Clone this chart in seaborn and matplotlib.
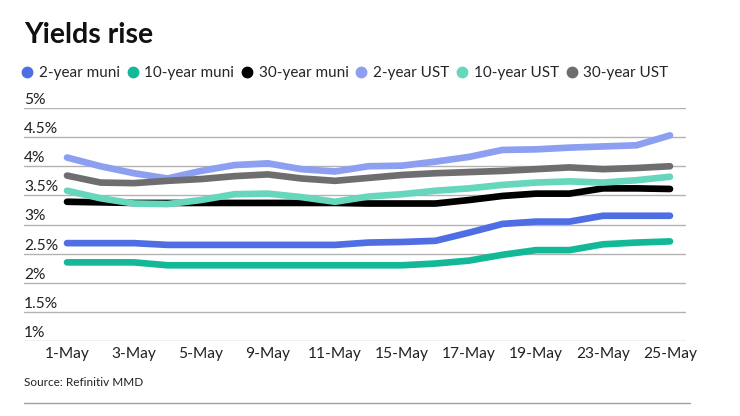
import matplotlib
matplotlib.use("Agg")
import matplotlib.pyplot as plt
from matplotlib.lines import Line2D
import seaborn as sns
import pandas as pd

dates = ["1-May", "2-May", "3-May", "4-May", "5-May", "8-May", "9-May", "10-May",
         "11-May", "12-May", "15-May", "16-May", "17-May", "18-May", "19-May",
         "22-May", "23-May", "24-May", "25-May"]

muni_2y = [2.68, 2.68, 2.68, 2.65, 2.65, 2.65, 2.65, 2.65, 2.65, 2.69, 2.70, 2.72,
           2.86, 3.01, 3.05, 3.05, 3.15, 3.15, 3.15]
muni_10y = [2.35, 2.35, 2.35, 2.30, 2.30, 2.30, 2.30, 2.30, 2.30, 2.30, 2.30, 2.33,
            2.38, 2.48, 2.56, 2.56, 2.66, 2.69, 2.71]
muni_30y = [3.39, 3.38, 3.37, 3.37, 3.37, 3.37, 3.37, 3.37, 3.37, 3.36, 3.36, 3.36,
            3.42, 3.49, 3.53, 3.53, 3.62, 3.62, 3.61]
ust_2y = [4.15, 4.00, 3.88, 3.79, 3.92, 4.02, 4.05, 3.95, 3.91, 4.00, 4.01, 4.08,
          4.16, 4.28, 4.29, 4.32, 4.34, 4.36, 4.53]
ust_10y = [3.58, 3.45, 3.36, 3.35, 3.42, 3.52, 3.53, 3.47, 3.39, 3.48, 3.52, 3.58,
           3.62, 3.68, 3.72, 3.74, 3.72, 3.76, 3.82]
ust_30y = [3.84, 3.72, 3.71, 3.75, 3.78, 3.83, 3.86, 3.79, 3.75, 3.80, 3.85, 3.88,
           3.90, 3.92, 3.95, 3.98, 3.95, 3.97, 4.00]

series_names = ["2-year muni", "10-year muni", "30-year muni",
                "2-year UST", "10-year UST", "30-year UST"]
series_values = [muni_2y, muni_10y, muni_30y, ust_2y, ust_10y, ust_30y]
colors = ["#4f6ee3", "#13b997", "#000000", "#8c9ff0", "#66d6bd", "#6e6e71"]

y_ticks = [1, 1.5, 2, 2.5, 3, 3.5, 4, 4.5, 5]
y_tick_labels = ["1%", "1.5%", "2%", "2.5%", "3%", "3.5%", "4%", "4.5%", "5%"]
x_tick_idx = list(range(0, len(dates), 2))
x_tick_labels = [dates[i] for i in x_tick_idx]

rows = []
for name, vals in zip(series_names, series_values):
    for i, v in enumerate(vals):
        rows.append({"idx": i, "date": dates[i], "series": name, "value": v})
df = pd.DataFrame(rows)

sns.set_theme(style="white")
plt.rcParams["font.family"] = ["Lato", "DejaVu Sans"]

W, H = 740, 416
fig = plt.figure(figsize=(W / 100, H / 100), dpi=100)
left, right, top, bottom = 24, 686, 108, 341
ax = fig.add_axes([left / W, 1 - bottom / H, (right - left) / W, (bottom - top) / H])

sns.lineplot(data=df, x="idx", y="value", hue="series", hue_order=series_names,
             palette=colors, linewidth=4.8, sort=False, legend=False, ax=ax,
             solid_capstyle="round", solid_joinstyle="round")

ax.set_ylim(1, 5)
ax.set_xlim(-43 / 33.5, 18 + 16 / 33.5)

for yv, lab in zip(y_ticks, y_tick_labels):
    ax.axhline(yv, color="#b3b3b3", linewidth=1.0, zorder=0)
    ax.annotate(lab, xy=(0, yv), xycoords=("axes fraction", "data"),
                xytext=(0, 1), textcoords="offset pixels", ha="left", va="bottom",
                fontsize=11.2, color="#222222")

ax.set_yticks([])
ax.set_xticks(x_tick_idx)
ax.set_xticklabels(x_tick_labels, fontsize=11.2, color="#222222")
ax.tick_params(axis="x", length=0, pad=4)
ax.set_xlabel("")
ax.set_ylabel("")
for s in ax.spines.values():
    s.set_visible(False)

fig.text(24 / W, 1 - 43 / H, "Yields rise", fontsize=20.5, fontweight="bold",
         ha="left", va="baseline", color="#111111")

handles = [Line2D([0], [0], marker="o", linestyle="none", markersize=7.5,
                  markerfacecolor=c, markeredgecolor=c) for c in colors]
fig.legend(handles, series_names, loc="center left",
           bbox_to_anchor=(22 / W, 1 - 73 / H), ncol=6, frameon=False,
           fontsize=11, handlelength=0.7, handletextpad=0.4,
           columnspacing=0.5, borderaxespad=0, borderpad=0)

fig.text(24 / W, 1 - 383 / H, "Source: Refinitiv MMD", fontsize=8.5,
         ha="left", va="center", color="#222222")
fig.add_artist(Line2D([24 / W, 690 / W], [1 - 403 / H, 1 - 403 / H],
                      color="#a0a0a0", linewidth=1.0))

fig.savefig("out.png", dpi=100)
